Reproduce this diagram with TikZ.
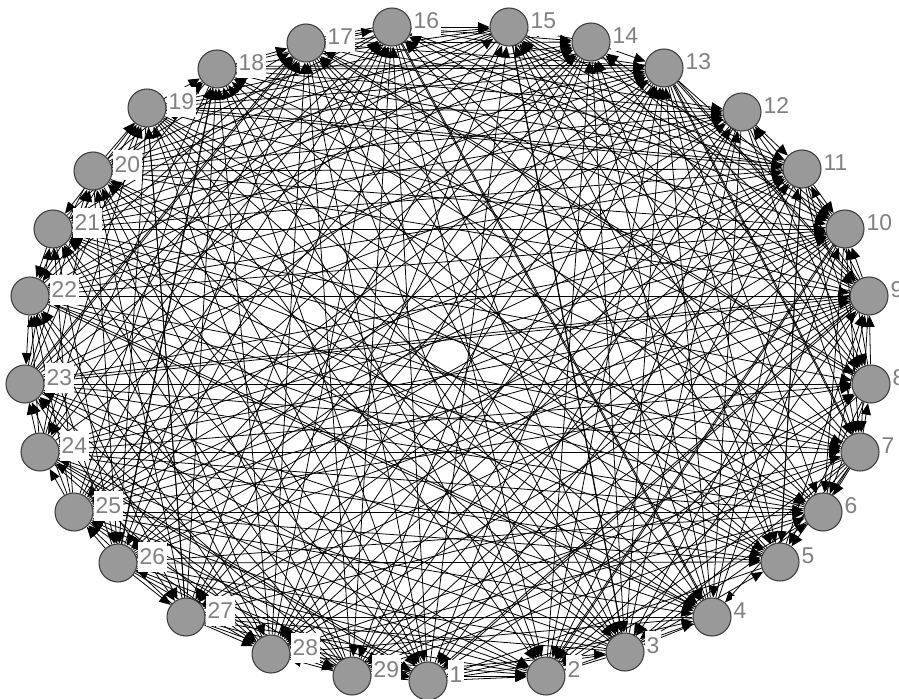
\documentclass[tikz,border=0pt]{standalone}
\usepackage{fontspec}
\setmainfont{Liberation Sans}
\usepackage{tikz}
\usetikzlibrary{arrows.meta, positioning, backgrounds}

\definecolor{vertexfill}{RGB}{153,153,153}
\definecolor{vertexline}{RGB}{60,60,60}
\definecolor{labelgray}{RGB}{128,128,128}

\begin{document}
\begin{tikzpicture}[
  x=0.02cm, y=-0.02cm,
  vertex/.style={circle, draw=vertexline, fill=vertexfill, line width=0.6pt,
                 minimum size=0.76cm, inner sep=0pt},
  num/.style={fill=white, text=labelgray, font=\fontsize{13}{13}\selectfont,
              inner xsep=1pt, inner ysep=4pt},
  edge/.style={-{Triangle[length=6.5pt, width=5.5pt]}, line width=0.45pt},
]
  \useasboundingbox (0,0) rectangle (899,699);

  % vertices on the ellipse, numbered clockwise from the bottom
  \foreach \k/\px/\py in {1/428/681, 2/546/676, 3/625/652, 4/712/617,
      5/780/562, 6/823/512, 7/860/452, 8/871/384, 9/869/296, 10/845/229,
      11/802/169, 12/742/112, 13/664/68, 14/591/42, 15/509/27, 16/392/27,
      17/306/43, 18/217/69, 19/147/108, 20/93/171, 21/53/229, 22/30/296,
      23/25/384, 24/40/452, 25/74/512, 26/118/563, 27/186/617, 28/271/654,
      29/352/676}{
    \node[vertex] (n\k) at (\px,\py) {};
    \node[num, right=0pt of n\k, yshift=0.12cm] (l\k) {\k};
  }

  % directed links
  \pgfmathsetseed{29}
  \begin{scope}[on background layer]
    \foreach \i in {1,...,28}{
      \pgfmathtruncatemacro{\nxt}{\i+1}
      \foreach \j in {\nxt,...,29}{
        \pgfmathsetmacro{\rv}{rnd}
        \ifdim\rv pt<0.38pt \draw[edge] (n\i) -- (n\j);\fi
        \ifdim\rv pt>0.62pt \draw[edge] (n\j) -- (n\i);\fi
        \ifdim\rv pt>0.48pt \ifdim\rv pt<0.52pt
          \draw[edge] ([yshift=1.5pt]n\i.center) -- ([yshift=1.5pt]n\j.center);
          \draw[edge] (n\j) -- (n\i);
        \fi\fi
      }
    }
  \end{scope}
\end{tikzpicture}
\end{document}
